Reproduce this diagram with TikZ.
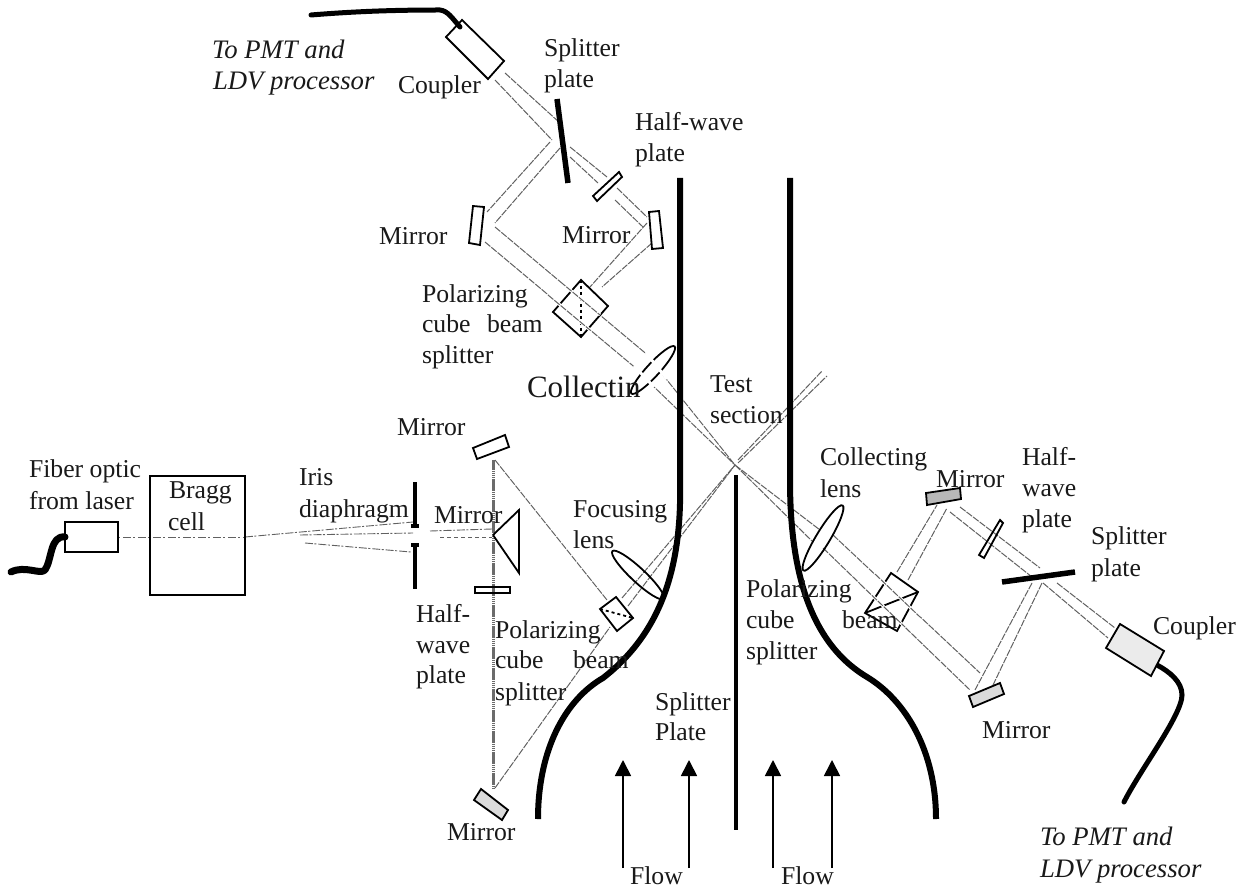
\documentclass[tikz,border=0pt]{standalone}
\usepackage{fontspec}
\setmainfont{Liberation Serif}
\usetikzlibrary{arrows.meta}
\begin{document}
\begin{tikzpicture}[x=1pt,y=-1pt,
  lbl/.style={anchor=base west,inner sep=0pt,outer sep=0pt,align=left,font=\fontsize{25.7}{31}\selectfont,text=black!90},
  itl/.style={lbl,font=\fontsize{26.7}{33}\selectfont\itshape},
  beam/.style={draw=black!62,line width=1pt,dash pattern=on 7pt off 1.2pt},
  gapbeam/.style={draw=white,line width=3pt},
  thickbeam/.style={draw=black!58,line width=3pt,dash pattern=on 1.6pt off 0.5pt},
  part/.style={draw=black,line width=1.8pt,line join=miter},
  speck/.style={part,fill=black!14},
  wall/.style={draw=black,line width=6pt},
  plate/.style={draw=black,line width=5.5pt},
  fiber/.style={draw=black,line width=5pt,line cap=round,line join=round},
  flowarrow/.style={draw=black,line width=1.7pt,-{Triangle[length=16pt,width=16pt]}}
]
\useasboundingbox[fill=white] (0,0) rectangle (1247,890);

% input beam and fan
\draw[beam,line width=.9pt,dash pattern=on 2pt off 3pt on 8pt off 2pt] (118,537) -- (245,537);
\draw[beam,line width=.9pt,dash pattern=on 8pt off 1.5pt on 2pt off 2pt] (245,537) -- (413,522);
\draw[beam,line width=.9pt,dash pattern=on 8pt off 1.5pt on 2pt off 2pt] (300,535) -- (413,533);
\draw[beam,line width=.9pt,dash pattern=on 8pt off 1.5pt on 2pt off 2pt] (305,543) -- (411,552);
\draw[beam,line width=.9pt,dash pattern=on 8pt off 1.5pt on 2pt off 2pt] (430,531) -- (492,529);
\draw[beam,line width=.9pt,dash pattern=on 4pt off 3pt] (440,537) -- (492,537);
% laser branches
\draw[thickbeam] (493,460) -- (493,789);
\draw[beam] (495,460) -- (607,600);
\draw[beam] (495,788) -- (610,627);
\draw[beam] (622,598) -- (735,465);
\draw[beam] (628,606) -- (735,465);
\draw[beam] (738,460) -- (822,371);
\draw[beam] (738,463) -- (827,376);

% collection, top
\draw[beam] (505,73) -- (560,123);
\draw[beam] (495,80) -- (552,140);
\draw[beam] (550,142) -- (487,212);
\draw[beam] (560,148) -- (495,223);
\draw[beam] (570,147) -- (607,177);
\draw[beam] (570,157) -- (598,183);
\draw[beam] (617,188) -- (647,217);
\draw[beam] (615,200) -- (643,227);
\draw[beam] (647,223) -- (590,287);
\draw[beam] (652,243) -- (602,287);
\draw[beam] (495,227) -- (650,357);
\draw[beam] (485,242) -- (638,370);
\draw[beam] (663,375) -- (735,465);
\draw[beam] (650,383) -- (735,465);
% collection, right
\draw[beam] (735,465) -- (820,530);
\draw[beam] (735,465) -- (813,542);
\draw[beam] (833,535) -- (980,673);
\draw[beam] (823,548) -- (970,690);
\draw[beam] (897,572) -- (937,505);
\draw[beam] (908,580) -- (947,508);
\draw[beam] (950,512) -- (1032,577);
\draw[beam] (960,507) -- (1040,568);
\draw[beam] (1032,583) -- (975,690);
\draw[beam] (1042,583) -- (993,685);
\draw[beam] (1057,583) -- (1115,628);
\draw[beam] (1043,583) -- (1108,638);

% test section
\draw[wall] (680,178) -- (680,480) .. controls (682,560) and (665,630) .. (603,678) .. controls (565,700) and (538,750) .. (538,819);
\draw[wall] (790,178) -- (790,480) .. controls (790,560) and (805,640) .. (867,677) .. controls (905,700) and (936,750) .. (936,819);
\draw[draw=black,line width=3.5pt] (736,475) -- (736,830);

% fibres
\draw[fiber] (311,15) .. controls (360,11) and (400,10) .. (440,10) .. controls (448,11) and (452,18) .. (460,27);
\draw[fiber,line width=7pt] (11,572) .. controls (25,565) and (40,575) .. (45,570) .. controls (52,560) and (50,535) .. (65,537);
\draw[fiber] (1157,665) .. controls (1170,672) and (1182,682) .. (1182,695) .. controls (1182,715) and (1140,770) .. (1124,802);

% couplers, boxes
\draw[part] (446,37) -- (462,20) -- (504,61) -- (488,79) -- cycle;
\draw[part,fill=black!8] (1120,624) -- (1164,651) -- (1151,676) -- (1106,648) -- cycle;
\draw[part] (65,522) rectangle (118,552);
\draw[part,line width=2pt] (150,476) rectangle (245,595);

% plates
\draw[plate] (557,99) -- (568,183);
\draw[plate] (1002,582) -- (1075,572);
\draw[part] (593,196) -- (619,172) -- (622,177) -- (597,201) -- cycle;
\draw[part] (979,555) -- (1000,520) -- (1003,523) -- (984,558) -- cycle;
\draw[part] (475,587) rectangle (510,593);

% mirrors
\draw[part] (473,206) -- (484,207) -- (480,245) -- (469,243) -- cycle;
\draw[part] (649,212) -- (659,211) -- (663,248) -- (652,249) -- cycle;
\draw[part] (473,448) -- (505,435) -- (509,447) -- (477,459) -- cycle;
\draw[speck] (481,789) -- (508,810) -- (502,820) -- (474,800) -- cycle;
\draw[speck,fill=black!28] (926,493) -- (960,488) -- (961,499) -- (927,505) -- cycle;
\draw[speck] (969,696) -- (1000,683) -- (1004,694) -- (973,707) -- cycle;

% prism
\draw[part,line width=1.8pt] (493,535) -- (519,510) -- (519,573) -- (493,535);

% iris
\draw[draw=black,line width=3.6pt] (415,482) -- (415,528);
\draw[draw=black,line width=3.6pt] (415,543) -- (415,589);
\draw[draw=black,line width=4pt] (411,526) -- (419,526);
\draw[draw=black,line width=4pt] (411,545) -- (419,545);

% cubes
\draw[part] (581,280) -- (608,306) -- (581,337) -- (553,312) -- cycle;
\draw[part,dashed] (581,280) -- (581,337);
\draw[part] (891,573) -- (918,592) -- (897,631) -- (865,613) -- cycle;
\draw[part] (865,613) -- (918,592);
\draw[part] (616,597) -- (633,618) -- (617,631) -- (600,609) -- cycle;
\draw[part,dashed] (600,609) -- (633,618);

% lenses
\draw[part,rotate around={47.5:(653,370)}] (653,370) ellipse (32pt and 6.5pt);
\draw[part,rotate around={-43:(638,575)}] (638,575) ellipse (35pt and 7pt);
\draw[part,rotate around={59:(823,538)}] (823,538) ellipse (38pt and 7pt);

% beams breaking the outlines where they pass
\draw[gapbeam] (560,281.5) -- (600,315);
\draw[gapbeam] (548,295) -- (590,330);
\draw[beam] (560,281.5) -- (600,315);
\draw[beam] (548,295) -- (590,330);
\draw[gapbeam] (875,574) -- (920,617);
\draw[gapbeam] (860,584) -- (905,627);
\draw[beam] (875,574) -- (920,617);
\draw[beam] (860,584) -- (905,627);
\draw[gapbeam] (634,366) -- (654,387);
\draw[gapbeam] (646,353) -- (667,379);

% flow arrows
\draw[flowarrow] (623,868) -- (623,760);
\draw[flowarrow] (689,868) -- (689,760);
\draw[flowarrow] (773,868) -- (773,760);
\draw[flowarrow] (832,868) -- (832,760);

% labels
\node[itl] (pmtA) at (212,59) {To PMT and};
\node[itl] (pmtAb) at (213,90) {LDV processor};
\node[lbl] (coupA) at (398,94) {Coupler};
\node[lbl] (splA) at (544,57) {Splitter};
\node[lbl] (splAb) at (544,88) {plate};
\node[lbl] (hwA) at (635,131) {Half-wave};
\node[lbl] (hwAb) at (635,162) {plate};
\node[lbl] (mA) at (379,245) {Mirror};
\node[lbl] (mB) at (562,244) {Mirror};
\node[lbl] (polA) at (422,303) {Polarizing};
\node[lbl] (polAb) at (422,333) {cube};
\node[lbl] (polAc) at (487,333) {beam};
\node[lbl] (polAd) at (422,363) {splitter};
\node[lbl,font=\fontsize{31}{36}\selectfont] (coll) at (527,397) {Collectin};
\node[lbl] (test) at (710,392) {Test};
\node[lbl] (testb) at (710,423) {section};
\node[lbl] (mC) at (397,435) {Mirror};
\node[lbl] (fib) at (29,477) {Fiber optic};
\node[lbl] (fibb) at (29,509) {from laser};
\node[lbl] (bragg) at (169,498) {Bragg};
\node[lbl] (braggb) at (168,530) {cell};
\node[lbl] (iris) at (299,485) {Iris};
\node[lbl] (irisb) at (299,517) {diaphragm};
\node[lbl] (mD) at (434,523) {Mirror};
\node[lbl] (hwL) at (416,622) {Half-};
\node[lbl] (hwLb) at (416,653) {wave};
\node[lbl] (hwLc) at (416,683) {plate};
\node[lbl] (foc) at (573,517) {Focusing};
\node[lbl] (focb) at (573,548) {lens};
\node[lbl] (polB) at (495,638) {Polarizing};
\node[lbl] (polBb) at (495,668) {cube};
\node[lbl] (polBc) at (573,668) {beam};
\node[lbl] (polBd) at (495,700) {splitter};
\node[lbl] (splP) at (655,710) {Splitter};
\node[lbl] (splPb) at (655,740) {Plate};
\node[lbl] (mE) at (447,840) {Mirror};
\node[lbl] (flowA) at (630,884) {Flow};
\node[lbl] (flowB) at (781,884) {Flow};
\node[lbl] (collR) at (820,465) {Collecting};
\node[lbl] (collRb) at (820,497) {lens};
\node[lbl] (mF) at (936,487) {Mirror};
\node[lbl] (hwR) at (1022,465) {Half-};
\node[lbl] (hwRb) at (1022,496) {wave};
\node[lbl] (hwRc) at (1022,527) {plate};
\node[lbl] (splR) at (1091,544) {Splitter};
\node[lbl] (splRb) at (1091,576) {plate};
\node[lbl] (coupR) at (1153,634) {Coupler};
\node[lbl] (mG) at (982,738) {Mirror};
\node[lbl] (polC) at (746,597) {Polarizing};
\node[lbl] (polCb) at (746,628) {cube};
\node[lbl] (polCc) at (842,628) {beam};
\node[lbl] (polCd) at (746,659) {splitter};
\node[itl] (pmtB) at (1040,845) {To PMT and};
\node[itl] (pmtBb) at (1040,877) {LDV processor};
\end{tikzpicture}
\end{document}
